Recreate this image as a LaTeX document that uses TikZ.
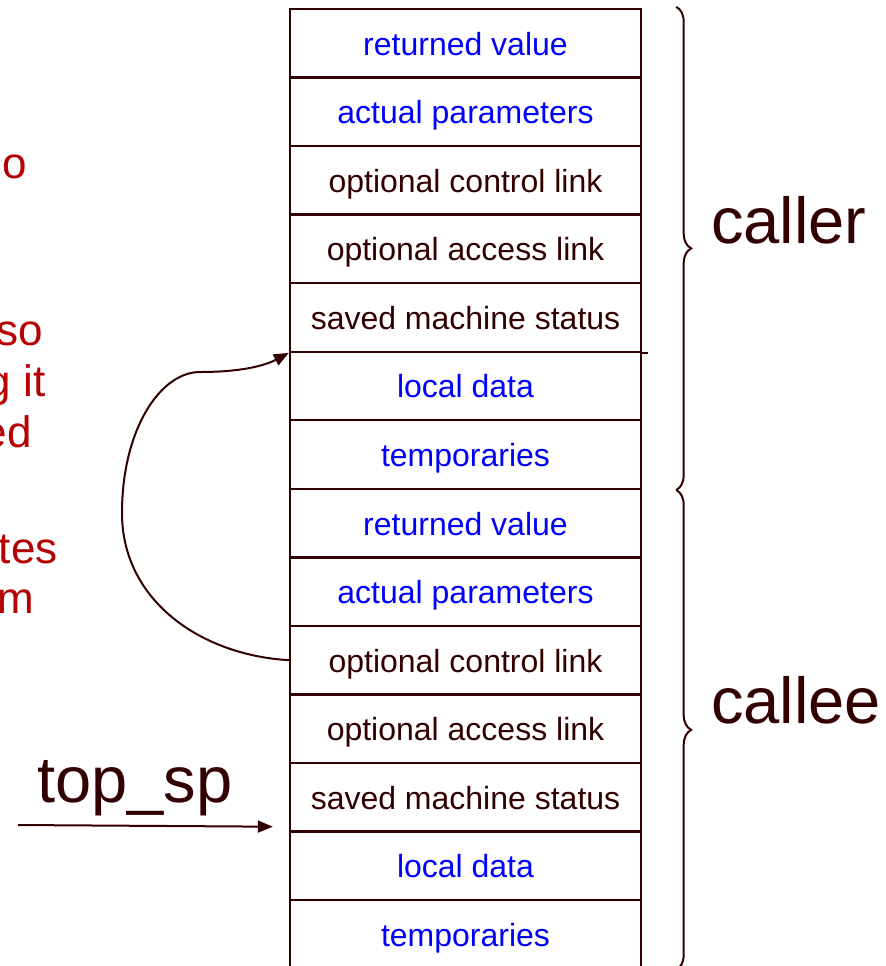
\documentclass[tikz,border=0pt]{standalone}
\usepackage{fontspec}
\setmainfont{Liberation Sans}
\usepackage{xcolor}
\usetikzlibrary{positioning, arrows.meta, decorations.pathreplacing}
\definecolor{darkbrown}{RGB}{51,0,0}
\definecolor{noteRed}{RGB}{180,0,0}

\begin{document}
\begin{tikzpicture}[node distance=34.27pt, on grid,
    cell/.style={rectangle, draw=darkbrown, line width=1.2pt, minimum width=175.5pt,
        minimum height=34.27pt, inner sep=0pt, text height=12pt, text depth=0pt,
        text=darkbrown, font=\fontsize{16pt}{19pt}\selectfont},
    data/.style={cell, text=blue},
    note/.style={anchor=base east, inner sep=0pt, text=noteRed,
        font=\fontsize{22pt}{26pt}\selectfont},
    big/.style={inner sep=0pt, text=darkbrown, font=\fontsize{32.5pt}{38pt}\selectfont},
    link/.style={draw=darkbrown, line width=1pt, -{Triangle[length=7.5pt, width=6pt]}},
    brace/.style={draw=darkbrown, line width=1pt, decorate,
        decoration={brace, amplitude=7.5pt}}]
    \useasboundingbox (0,0) rectangle (443pt,-483pt);

    % caller frame
    \node[data] (rv1) at (232.75pt,-21.64pt) {returned value};
    \node[data, below=of rv1] (ap1) {actual parameters};
    \node[cell, below=of ap1] (ctl1) {optional control link};
    \node[cell, below=of ctl1] (acc1) {optional access link};
    \node[cell, below=of acc1] (sms1) {saved machine status};
    \node[data, below=of sms1] (ld1) {local data};
    \node[data, below=of ld1] (tmp1) {temporaries};

    % callee frame
    \node[data, below=of tmp1] (rv2) {returned value};
    \node[data, below=of rv2] (ap2) {actual parameters};
    \node[cell, below=of ap2] (ctl2) {optional control link};
    \node[cell, below=of ctl2] (acc2) {optional access link};
    \node[cell, below=of acc2] (sms2) {saved machine status};
    \node[data, below=of sms2] (ld2) {local data};
    \node[data, below=of ld2] (tmp2) {temporaries};

    \draw[darkbrown, line width=1.2pt] (sms1.south east) -- ++(3pt,0);

    % braces
    \draw[brace] ([xshift=17pt,yshift=0.5pt]rv1.north east) -- ([xshift=17pt]tmp1.south east)
        node[big, midway, anchor=base west, xshift=17pt, yshift=2.5pt] (caller) {caller};
    \draw[brace] ([xshift=17pt]tmp1.south east) -- ([xshift=17pt]tmp2.south east)
        node[big, midway, anchor=base west, xshift=17pt, yshift=3pt] (callee) {callee};

    % control link
    \draw[link] (ctl2.west) .. controls (100pt,-327.5pt) and (61pt,-300pt) .. (61pt,-256.5pt)
        .. controls (61pt,-215pt) and (80pt,-186pt) .. (100pt,-186pt)
        .. controls (120pt,-186pt) and (132pt,-183pt) .. (sms1.south west);

    % top_sp
    \node[big, anchor=base west] (topsp) at (18.5pt,-401pt) {top\_sp};
    \coordinate (spfrom) at (9pt,-412.5pt);
    \coordinate (spto) at ([xshift=-8pt,yshift=3pt]sms2.south west);
    \draw[link] (spfrom) -- (spto);

    % notes cut at the left edge
    \node[note] (n1) at (13.5pt,-89pt) {o};
    \node[note] (n2) at (21.5pt,-172.5pt) {so};
    \node[note] (n3) at (23pt,-198pt) {g it};
    \node[note] (n4) at (16pt,-223.5pt) {ed};
    \node[note] (n5) at (29pt,-281.5pt) {tes};
    \node[note] (n6) at (17.5pt,-306.5pt) {m};
\end{tikzpicture}
\end{document}
